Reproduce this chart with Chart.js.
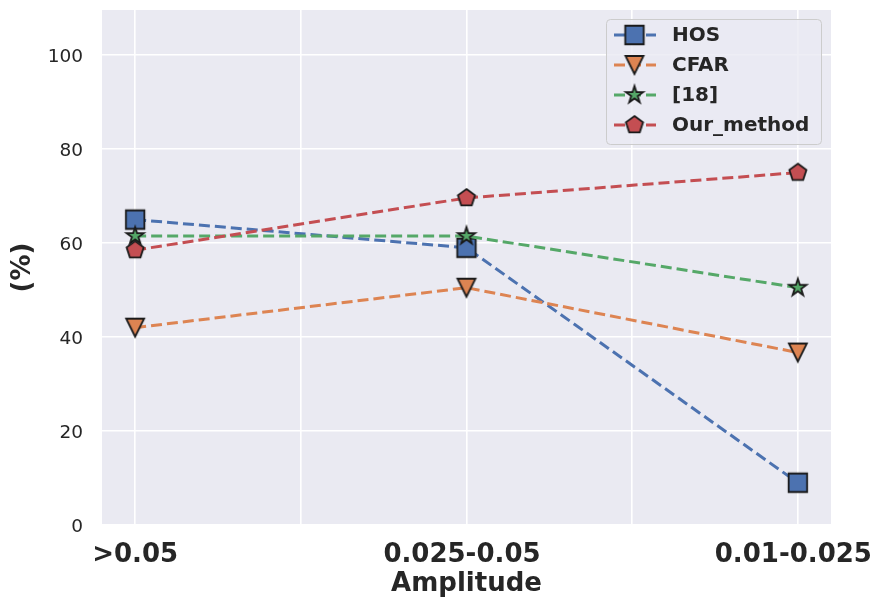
<!DOCTYPE html>
<html><head><meta charset="utf-8">
<script src="https://cdn.jsdelivr.net/npm/chart.js@4/dist/chart.umd.min.js"></script>
<style>html,body{margin:0;padding:0;background:#fff;} #wrap{width:875px;height:604px;}</style>
</head><body><div id="wrap"><canvas id="c" width="875" height="604"></canvas></div>
<script>
const categories = ['>0.05', '0.025-0.05 ', '0.01-0.025 '];
const xPositions = [0, 1, 2];
const hosValues = [65, 59, 9];
const cfarValues = [42, 50.5, 36.7];
const ref18Values = [61.5, 61.5, 50.5];
const ourValues = [58.5, 69.6, 75];
const yTickValues = [0, 20, 40, 60, 80, 100];
const xGridValues = [0, 0.5, 1, 1.5, 2];
const seriesNames = ['HOS', 'CFAR', '[18]', 'Our_method'];
const seriesValues = [hosValues, cfarValues, ref18Values, ourValues];
const seriesColors = ['#4C72B0', '#DD8452', '#55A868', '#C44E52'];
const seriesMarkers = ['square', 'triangleDown', 'star', 'pentagon'];

const TEXT = '#262626';
const FONT = 'DejaVu Sans';

function makeMarker(shape, fill) {
  const s = 26, c = s / 2, r = 9;
  const cv = document.createElement('canvas');
  cv.width = s; cv.height = s;
  const g = cv.getContext('2d');
  g.beginPath();
  if (shape === 'square') {
    g.rect(c - 9.25, c - 9.25, 18.5, 18.5);
  } else if (shape === 'triangleDown') {
    g.moveTo(c, c + r); g.lineTo(c - r, c - r); g.lineTo(c + r, c - r); g.closePath();
  } else if (shape === 'star') {
    for (let i = 0; i < 10; i++) {
      const rr = i % 2 === 0 ? r : r * 0.381966;
      const a = -Math.PI / 2 + i * Math.PI / 5;
      const px = c + rr * Math.cos(a), py = c + rr * Math.sin(a);
      if (i) g.lineTo(px, py); else g.moveTo(px, py);
    }
    g.closePath();
  } else {
    for (let i = 0; i < 5; i++) {
      const a = -Math.PI / 2 + i * 2 * Math.PI / 5;
      const px = c + r * Math.cos(a), py = c + r * Math.sin(a);
      if (i) g.lineTo(px, py); else g.moveTo(px, py);
    }
    g.closePath();
  }
  g.fillStyle = fill; g.fill();
  g.lineWidth = 1.8; g.strokeStyle = '#1a1a1a'; g.lineJoin = 'miter'; g.stroke();
  return cv;
}
const markerImgs = seriesMarkers.map((m, i) => makeMarker(m, seriesColors[i]));

const bgPlugin = {
  id: 'bg',
  beforeDraw(chart) {
    const {ctx, chartArea: a} = chart;
    ctx.save();
    ctx.fillStyle = '#ffffff';
    ctx.fillRect(0, 0, chart.width, chart.height);
    ctx.fillStyle = '#EAEAF2';
    ctx.fillRect(a.left, a.top, a.right - a.left, a.bottom - a.top);
    ctx.restore();
  }
};

const legendPlugin = {
  id: 'boxLegend',
  afterDatasetsDraw(chart) {
    const {ctx, chartArea: a} = chart;
    const bw = 215, bh = 125;
    const bx = a.right - 10 - bw, by = a.top + 9;
    ctx.save();
    ctx.beginPath();
    ctx.roundRect(bx + 0.5, by + 0.5, bw, bh, 4);
    ctx.fillStyle = 'rgba(234,234,242,0.8)';
    ctx.fill();
    ctx.lineWidth = 1;
    ctx.strokeStyle = '#cccccc';
    ctx.stroke();
    chart.data.datasets.forEach((ds, i) => {
      const y = by + 16 + i * 30;
      ctx.beginPath();
      ctx.setLineDash([11, 5]);
      ctx.lineWidth = 3;
      ctx.strokeStyle = ds.borderColor;
      ctx.moveTo(bx + 8, y);
      ctx.lineTo(bx + 50, y);
      ctx.stroke();
      ctx.setLineDash([]);
      const img = ds.pointStyle;
      ctx.drawImage(img, bx + 28.5 - img.width / 2, y - img.height / 2);
      ctx.fillStyle = TEXT;
      ctx.font = 'bold 20px "' + FONT + '"';
      ctx.textBaseline = 'middle';
      ctx.textAlign = 'left';
      ctx.fillText(ds.label, bx + 66, y + 1);
    });
    ctx.restore();
  }
};

const n = seriesNames.length;
const datasets = seriesNames.map((name, i) => ({
  label: name,
  data: seriesValues[i].map((v, j) => ({x: xPositions[j], y: v})),
  borderColor: seriesColors[i],
  backgroundColor: seriesColors[i],
  borderWidth: 3,
  borderDash: [11, 5],
  pointStyle: markerImgs[i],
  pointRadius: 10,
  pointHoverRadius: 10,
  fill: false,
  tension: 0,
  order: n - 1 - i
}));

new Chart(document.getElementById('c'), {
  type: 'line',
  data: {datasets},
  options: {
    responsive: false,
    animation: false,
    events: [],
    layout: {autoPadding: false, padding: {left: 0, right: 44, top: 10, bottom: 0}},
    plugins: {legend: {display: false}, tooltip: {enabled: false}},
    scales: {
      x: {
        type: 'linear', min: -0.1, max: 2.1,
        afterBuildTicks: s => { s.ticks = xGridValues.map(v => ({value: v})); },
        afterFit: s => { s.height = 79; s.paddingLeft = 0; s.paddingRight = 0; },
        grid: {color: '#ffffff', lineWidth: 1.6, drawTicks: false},
        border: {display: false},
        ticks: {
          autoSkip: false, maxRotation: 0, padding: 15, color: TEXT,
          font: {family: FONT, size: 26, weight: 'bold'},
          callback: v => Number.isInteger(v) ? categories[v] : ''
        },
        title: {display: true, text: 'Amplitude', color: TEXT,
          font: {family: FONT, size: 26, weight: 'bold'}, padding: {top: 0, bottom: 4}}
      },
      y: {
        min: 0, max: 109.6,
        afterBuildTicks: s => { s.ticks = yTickValues.map(v => ({value: v})); },
        afterFit: s => { s.width = 102; s.paddingTop = 0; s.paddingBottom = 0; },
        grid: {color: '#ffffff', lineWidth: 1.6, drawTicks: false},
        border: {display: false},
        ticks: {padding: 19, labelOffset: 2, color: TEXT, font: {family: FONT, size: 18.5}},
        title: {display: true, text: '(%)', color: TEXT,
          font: {family: FONT, size: 26, weight: 'bold'}, padding: {top: 8, bottom: 0}}
      }
    }
  },
  plugins: [bgPlugin, legendPlugin]
});
</script>
</body></html>
